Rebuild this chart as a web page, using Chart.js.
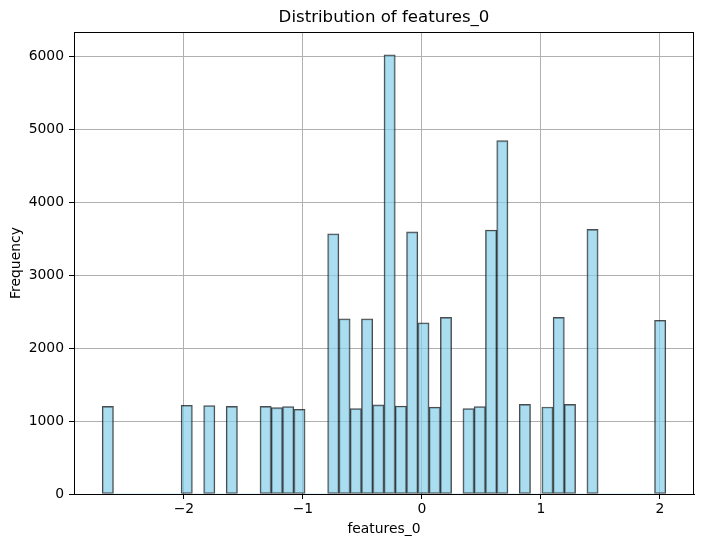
<!DOCTYPE html>
<html>
<head>
<meta charset="utf-8">
<script src="https://cdn.jsdelivr.net/npm/chart.js@4"></script>
<style>
  html, body { margin: 0; padding: 0; background: #fff; }
  #wrap { width: 704px; height: 547px; }
</style>
</head>
<body>
<div id="wrap"><canvas id="histChart"></canvas></div>
<script>
// histogram of features_0: 50 equal bins
const binStart = -2.687;
const binWidth = 0.09472;
const counts = [
    1200, 0, 0, 0, 0, 0, 0, 1215, 0, 1212,
    0, 1200, 0, 0, 1200, 1183, 1198, 1160, 0, 0,
    3565, 2400, 1170, 2400, 1220, 6015, 1205, 3590, 2345, 1190,
    2420, 0, 1170, 1198, 3616, 4840, 0, 1228, 0, 1192,
    2420, 1228, 0, 3625, 0, 0, 0, 0, 0, 2380
];
const xTicks = [-2, -1, 0, 1, 2];
const yTicks = [0, 1000, 2000, 3000, 4000, 5000, 6000];
const chartTitle = 'Distribution of features_0';

const FONT = 'DejaVu Sans';
Chart.defaults.font.family = FONT;
Chart.defaults.color = '#000';

const points = counts.map((c, i) => ({ x: binStart + (i + 0.5) * binWidth, y: c }));

// matplotlib style: full box around the axes plus a title centered over it
const frameAndTitle = {
    id: 'frameAndTitle',
    afterDraw(chart) {
        const { ctx, chartArea } = chart;
        ctx.save();
        ctx.strokeStyle = '#000';
        ctx.lineWidth = 1;
        ctx.strokeRect(chartArea.left + 0.5, chartArea.top + 0.5,
            chartArea.right - chartArea.left - 1, chartArea.bottom - chartArea.top);
        ctx.fillStyle = '#000';
        ctx.font = '16.6px "' + FONT + '"';
        ctx.textAlign = 'center';
        ctx.textBaseline = 'middle';
        ctx.fillText(chartTitle, (chartArea.left + chartArea.right) / 2, 18);
        ctx.restore();
    }
};

const gridColor = '#b0b0b0';

new Chart(document.getElementById('histChart'), {
    type: 'bar',
    data: {
        datasets: [{
            data: points,
            backgroundColor: 'rgba(135, 206, 235, 0.7)',
            borderColor: 'rgba(0, 0, 0, 0.7)',
            borderWidth: ctx => (ctx.raw && ctx.raw.y > 0 ? 1.2 : 0),
            borderSkipped: false,
            barPercentage: 1,
            categoryPercentage: 1
        }]
    },
    options: {
        responsive: true,
        maintainAspectRatio: false,
        animation: false,
        layout: { padding: { top: 32, right: 10, left: 0, bottom: 0 } },
        plugins: {
            legend: { display: false },
            tooltip: { enabled: false }
        },
        scales: {
            x: {
                type: 'linear',
                offset: false,
                min: -2.924,
                max: 2.286,
                afterBuildTicks: scale => { scale.ticks = xTicks.map(v => ({ value: v })); },
                afterFit: scale => { scale.height = 53; },
                ticks: {
                    font: { size: 13.9 },
                    padding: 2,
                    maxRotation: 0,
                    callback: v => String(v).replace('-', '\u2212')
                },
                grid: { offset: false, color: gridColor, lineWidth: 1, tickLength: 5, tickColor: '#000' },
                border: { display: true, color: '#000' },
                title: { display: true, text: 'features_0', font: { size: 13.9 }, padding: { top: 0, bottom: 9 } }
            },
            y: {
                min: 0,
                max: 6329,
                afterBuildTicks: scale => { scale.ticks = yTicks.map(v => ({ value: v })); },
                afterFit: scale => { scale.width = 74; },
                ticks: { font: { size: 13.9 }, padding: 5, callback: v => String(v) },
                grid: { color: gridColor, lineWidth: 1, tickLength: 5, tickColor: '#000' },
                border: { display: true, color: '#000' },
                title: { display: true, text: 'Frequency', font: { size: 13.9 }, padding: { top: 8, bottom: 0 } }
            }
        }
    },
    plugins: [frameAndTitle]
});
</script>
</body>
</html>
